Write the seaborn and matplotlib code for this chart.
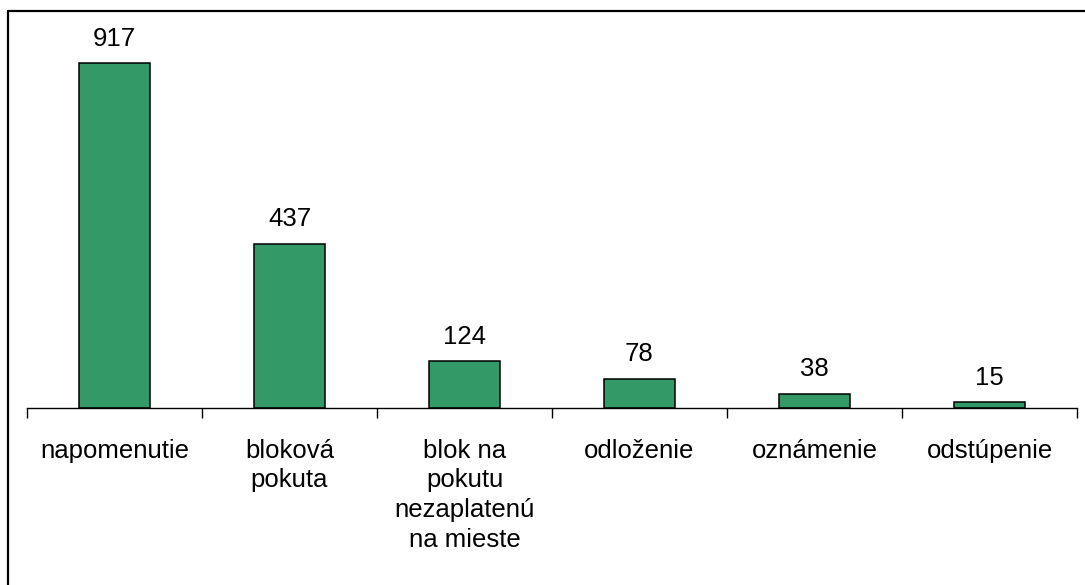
import numpy as np
import pandas as pd
import matplotlib
matplotlib.use("Agg")
import matplotlib.pyplot as plt
from matplotlib.lines import Line2D
import seaborn as sns

# ------------------ DATA ------------------
categories = ["napomenutie", "bloková\npokuta", "blok na\npokutu\nnezaplatenú\nna mieste",
              "odloženie", "oznámenie", "odstúpenie"]
values = [917, 437, 124, 78, 38, 15]

df = pd.DataFrame({"cat": categories, "val": values})

# ------------------ STYLE ------------------
sns.set_style("white", {"xtick.bottom": True, "text.color": "black",
                        "xtick.color": "black", "axes.labelcolor": "black"})
plt.rcParams["font.family"] = ["Liberation Sans", "DejaVu Sans"]

W, H = 1085, 585
fig = plt.figure(figsize=(W / 100, H / 100), dpi=100)
ax = fig.add_axes([27 / W, (H - 408) / H, (1077 - 27) / W, (408 - 20) / H])

sns.barplot(data=df, x="cat", y="val", color="#339966", saturation=1,
            width=0.41, edgecolor="black", linewidth=1.1, ax=ax)

ax.set_xlim(-0.5, len(categories) - 0.5)
ax.set_ylim(0, 917 * (408 - 20) / 345)

ax.bar_label(ax.containers[0], fontsize=18.5, padding=9, color="black")

# axis look
for s in ["top", "right", "left"]:
    ax.spines[s].set_visible(False)
ax.spines["bottom"].set_color("black")
ax.spines["bottom"].set_linewidth(1.0)
ax.set_yticks([])
ax.set_xlabel("")
ax.set_ylabel("")
ax.set_xticks(np.arange(len(categories)))
ax.set_xticklabels(categories, fontsize=18.5, linespacing=1.3, color="black")
ax.set_xticks(np.arange(-0.5, len(categories)), minor=True)
ax.tick_params(axis="x", which="major", bottom=False, length=0, pad=22)
ax.tick_params(axis="x", which="minor", bottom=True, length=7, width=1.0,
               color="black", direction="out")

# outer frame (top + left only)
fig.add_artist(Line2D([7.5 / W, 7.5 / W], [0, (H - 10.5) / H], transform=fig.transFigure,
                      color="black", linewidth=1.6))
fig.add_artist(Line2D([7.5 / W, 1], [(H - 10.5) / H, (H - 10.5) / H], transform=fig.transFigure,
                      color="black", linewidth=1.6))

fig.savefig("out.png", dpi=100)
